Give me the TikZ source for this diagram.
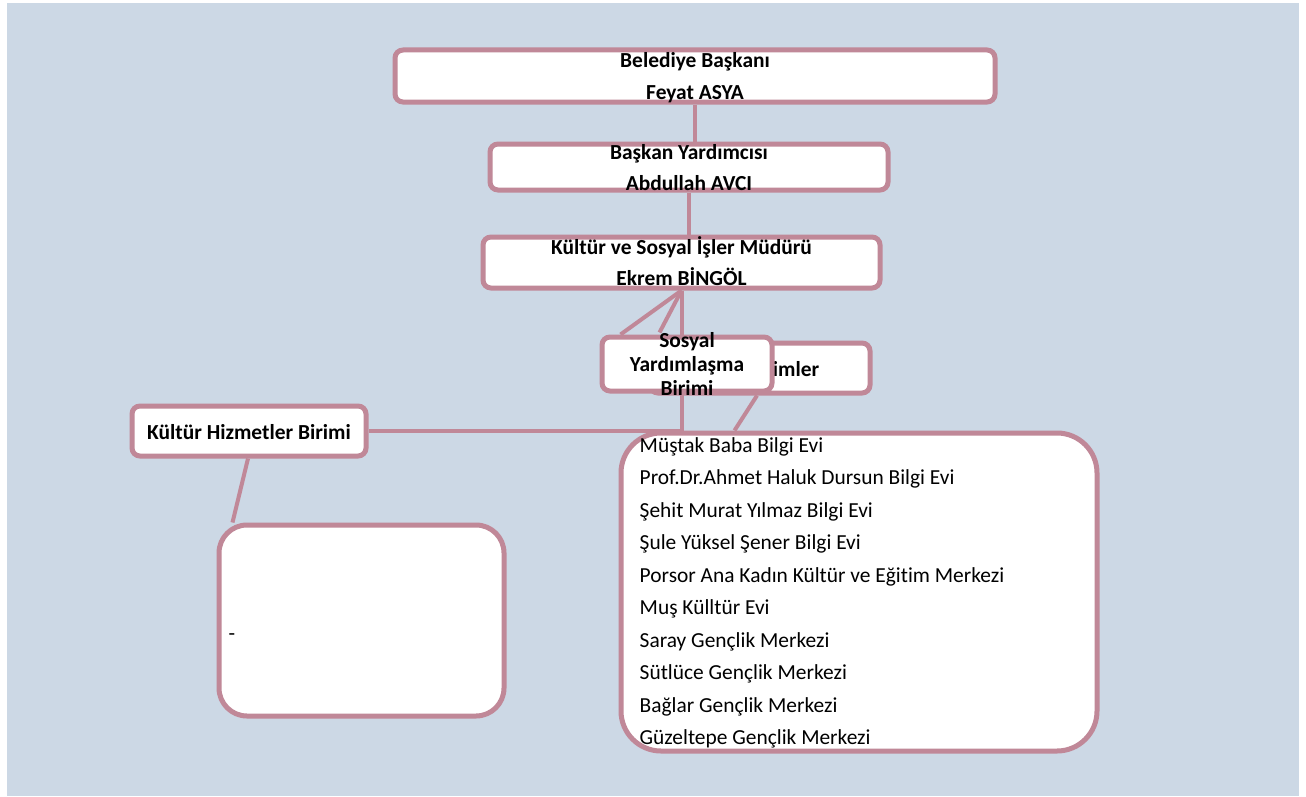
\documentclass[tikz,border=0pt]{standalone}
\usepackage{fontspec}
\setmainfont[Ligatures=NoCommon]{Carlito}
\usetikzlibrary{calc}
\definecolor{bgblue}{HTML}{CCD8E5}
\definecolor{mauve}{HTML}{C08898}
\pgfdeclarelayer{bg}
\pgfdeclarelayer{edges}
\pgfsetlayers{bg,edges,main}
\begin{document}
\begin{tikzpicture}[x=1bp,y=-1bp,
  box/.style={draw=mauve, line width=5bp, fill=white, rounded corners=8bp, inner sep=0pt},
  roundbox/.style={box, rounded corners=#1},
  link/.style={draw=mauve, line width=4bp},
  head/.style={font=\fontsize{21.5}{26}\selectfont\bfseries, inner sep=0pt, anchor=center},
  item/.style={font=\fontsize{21.5}{26}\selectfont, inner sep=0pt, anchor=west}]

% page and panel
\useasboundingbox (0,0) rectangle (1306,796);
\begin{pgfonlayer}{bg}
  \fill[bgblue] (7,3) rectangle (1299,796);
\end{pgfonlayer}

% mayor
\node[box, minimum width=600bp, minimum height=52bp] (b1) at (695,76) {};
\node[head] (b1a) at ($(b1.north)+(0,14)$) {Belediye Başkanı};
\node[head] (b1b) at ($(b1.north)+(0,47)$) {Feyat ASYA};

% deputy mayor
\node[box, minimum width=398bp, minimum height=46bp] (b2) at (689,167) {};
\node[head] (b2a) at ($(b2.north)+(0,12)$) {Başkan Yardımcısı};
\node[head] (b2b) at ($(b2.north)+(0,42)$) {Abdullah AVCI};

% director
\node[box, minimum width=397bp, minimum height=51bp] (b3) at (681.5,262.5) {};
\node[head] (b3a) at ($(b3.north)+(0,13)$) {Kültür ve Sosyal İşler Müdürü};
\node[head] (b3b) at ($(b3.north)+(0,42)$) {Ekrem BİNGÖL};

% culture services unit
\node[box, minimum width=234bp, minimum height=50bp] (kh) at (249,431) {};
\node[head] (kht) at ($(kh.center)+(0,1)$) {Kültür Hizmetler Birimi};

% empty unit box
\node[roundbox=28bp, minimum width=285bp, minimum height=191bp] (eb) at (361.5,620.5) {};
\node[item] (ebt) at ($(eb.west)+(12,17)$) {-};

% list of centres
\node[roundbox=40bp, minimum width=476bp, minimum height=318bp] (lb) at (859,592) {};
\foreach \t [count=\i from 0] in {Müştak Baba Bilgi Evi,
    Prof.Dr.Ahmet Haluk Dursun Bilgi Evi,
    Şehit Murat Yılmaz Bilgi Evi,
    Şule Yüksel Şener Bilgi Evi,
    Porsor Ana Kadın Kültür ve Eğitim Merkezi,
    Muş Külltür Evi,
    Saray Gençlik Merkezi,
    Sütlüce Gençlik Merkezi,
    Bağlar Gençlik Merkezi,
    Güzeltepe Gençlik Merkezi}
  \node[item] (li\i) at ($(lb.north west)+(21,16+32.5*\i)$) {\t};

% unit box partly hidden behind the social aid unit
\node[box, minimum width=220bp, minimum height=50bp] (ub) at (760,368) {};
\node[head, anchor=east] (ubt) at ($(ub.east)+(-53,1)$) {imler};

% social aid unit
\node[box, minimum width=170bp, minimum height=54bp] (sy) at (687,364) {};
\node[head, align=center, font=\fontsize{21.5}{24}\selectfont\bfseries] (syt) at (sy.center) {Sosyal\\Yardımlaşma\\Birimi};

% connectors
\begin{pgfonlayer}{edges}
  \draw[link] (b1.south) -- (b1.south |- b2.north);
  \draw[link] (b2.south) -- (b2.south |- b3.north);
  \draw[link] (b3.south) -- ($(sy.north west)+(21,0)$);
  \draw[link] (b3.south) -- ($(sy.north west)+(60,-2)$);
  \draw[link] (b3.south) -- (b3.south |- kh.east) -- (kh.east);
  \draw[link] ($(kh.south)+(-1,0)$) -- ($(eb.north west)+(16,0)$);
  \draw[link] ($(ub.south)+(-3,0)$) -- ($(lb.north west)+(116,0)$);
\end{pgfonlayer}
\end{tikzpicture}
\end{document}
